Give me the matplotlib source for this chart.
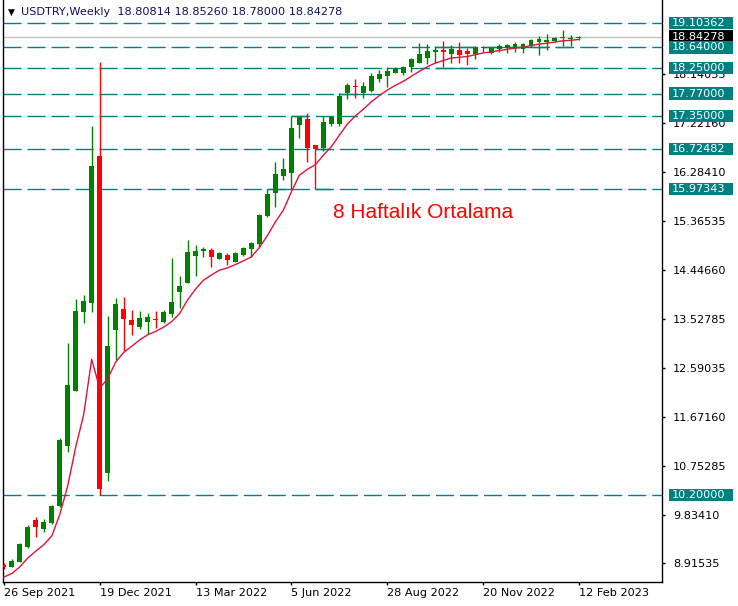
import numpy as np
import pandas as pd
import matplotlib
matplotlib.use("Agg")
import matplotlib.pyplot as plt
from matplotlib.patches import Rectangle

# USDTRY weekly candles, 26 Sep 2021 .. 12 Feb 2023 (one per week)
opens = [8.88, 8.851, 8.945, 9.228, 9.731, 9.567, 9.681, 9.995, 11.132, 12.169,
         13.652, 13.828, 16.593, 10.612, 13.313, 13.709, 13.502, 13.375, 13.470, 13.526,
         13.470, 13.615, 14.029, 14.205, 14.708, 14.802, 14.821, 14.657, 14.727, 14.600,
         14.733, 14.846, 14.928, 15.462, 15.901, 16.216, 16.278, 17.177, 17.285, 16.795,
         16.738, 17.196, 17.196, 17.775, 17.918, 17.775, 17.824, 18.045, 18.101, 18.163,
         18.152, 18.265, 18.341, 18.446, 18.559, 18.591, 18.516, 18.591, 18.572, 18.516,
         18.623, 18.529, 18.610, 18.623, 18.623, 18.604, 18.672, 18.748, 18.748, 18.767,
         18.812, 18.800, 18.80814]
highs = [8.92, 8.991, 9.298, 9.637, 9.788, 9.750, 10.014, 11.277, 13.074, 13.897,
         13.973, 17.158, 18.36, 13.577, 13.922, 13.935, 13.690, 13.671, 13.633, 13.671,
         13.690, 14.665, 14.331, 15.010, 14.915, 14.883, 14.853, 14.783, 14.770, 14.783,
         14.883, 14.978, 15.500, 15.973, 16.485, 16.561, 17.350, 17.350, 17.409, 16.795,
         17.350, 17.350, 17.775, 17.963, 18.045, 17.994, 18.152, 18.214, 18.276, 18.276,
         18.295, 18.440, 18.717, 18.704, 18.672, 18.761, 18.685, 18.736, 18.623, 18.666,
         18.672, 18.642, 18.704, 18.704, 18.736, 18.717, 18.792, 18.861, 18.893, 18.842,
         18.968, 18.874, 18.85260]
lows = [8.81, 8.840, 8.940, 9.209, 9.417, 9.500, 9.662, 9.977, 11.019, 12.163,
        13.439, 13.647, 10.20, 10.467, 12.747, 12.923, 13.219, 13.332, 13.238, 13.351,
        13.439, 13.564, 13.733, 14.205, 14.337, 14.695, 14.506, 14.646, 14.533, 14.589,
        14.708, 14.683, 14.883, 15.437, 15.637, 16.141, 15.973, 16.927, 16.485, 15.973,
        16.693, 17.158, 17.158, 17.673, 17.692, 17.677, 17.799, 17.994, 17.899, 18.152,
        18.120, 18.182, 18.341, 18.322, 18.341, 18.276, 18.341, 18.352, 18.303, 18.421,
        18.559, 18.516, 18.559, 18.540, 18.559, 18.540, 18.653, 18.497, 18.591, 18.748,
        18.672, 18.672, 18.78000]
closes = [8.85, 8.958, 9.279, 9.605, 9.594, 9.694, 9.995, 11.240, 12.276, 13.671,
          13.860, 16.404, 10.316, 13.011, 13.805, 13.526, 13.407, 13.545, 13.564, 13.507,
          13.647, 13.835, 14.142, 14.783, 14.802, 14.840, 14.695, 14.759, 14.632, 14.770,
          14.859, 14.959, 15.481, 15.877, 16.254, 16.353, 17.121, 17.322, 16.738, 16.725,
          17.234, 17.334, 17.730, 17.931, 17.888, 17.912, 18.101, 18.139, 18.201, 18.233,
          18.265, 18.421, 18.516, 18.572, 18.591, 18.559, 18.610, 18.497, 18.516, 18.623,
          18.653, 18.623, 18.666, 18.685, 18.704, 18.704, 18.780, 18.799, 18.780, 18.823,
          18.842, 18.810, 18.84278]
# closes of the weeks before the first candle, only used to seed the average
pre_closes = [8.55, 8.60, 8.52, 8.58, 8.47, 8.56, 8.80]

levels = [19.10362, 18.64, 18.25, 17.77, 17.35, 16.72482, 15.97343, 10.20]
last_price = 18.84278
# short level segments (price, first week, last week)
segments = [(15.97343, 33, 36), (15.97343, 39, 41), (16.72482, 39, 41),
            (17.35, 36, 38), (17.77, 42, 45), (18.25, 54, 59),
            (18.64, 54, 59), (18.64, 60, 68), (18.64, 69, 71)]

tick_vals = [8.91535, 9.83410, 10.75285, 11.67160, 12.59035, 13.52785,
             14.44660, 15.36535, 16.28410, 17.22160, 18.14035]
date_idx = [0, 12, 24, 36, 48, 60, 72]
date_labels = ["26 Sep 2021", "19 Dec 2021", "13 Mar 2022", "5 Jun 2022",
               "28 Aug 2022", "20 Nov 2022", "12 Feb 2023"]

W, H = 738, 606
FS = 8.1
fig = plt.figure(figsize=(W / 100, H / 100), dpi=100)
ax = fig.add_axes([3 / W, (H - 582) / H, (662 - 3) / W, 582 / H])

TEAL = "#008080"
GREEN = "#008000"
RED = "#ff0000"

x = np.arange(len(closes))
for i in x:
    o, h, l, c = opens[i], highs[i], lows[i], closes[i]
    col = GREEN if c >= o else RED
    ax.vlines(i, l, h, color=col, lw=1, zorder=3)
    ax.bar(i, max(abs(c - o), 0.02), bottom=min(o, c), width=0.62,
           color=col, lw=0, zorder=3)

# 8 week exponential average
allc = pd.Series(pre_closes + closes)
ema = allc.ewm(span=8, adjust=False).mean().values[len(pre_closes):]
ax.plot(x, ema, color="#dc143c", lw=1, zorder=4)

for lv in levels:
    ax.axhline(lv, color=TEAL, lw=1, dashes=(13, 4.3), zorder=2)
for lv, a, b in segments:
    ax.hlines(lv, a, b, color=TEAL, lw=1, zorder=2)
ax.axhline(last_price, color="#c0c0c0", lw=1, zorder=1)

ax.set_xlim(-0.1, 82.4)
ax.set_ylim(8.563, 19.533)

ax.yaxis.tick_right()
ax.set_yticks(tick_vals)
ax.set_yticklabels([f"{v:.5f}" for v in tick_vals])
ax.tick_params(axis="y", direction="out", length=2.5, width=1, pad=5.5,
               labelsize=FS, colors="black")
ax.set_xticks(date_idx)
ax.set_xticklabels(date_labels, ha="left")
ax.tick_params(axis="x", direction="out", length=2.5, width=1, pad=2,
               labelsize=FS)
ax.spines["top"].set_visible(False)
for s in ("left", "right", "bottom"):
    ax.spines[s].set_linewidth(1)

# price boxes on the right scale
tr = ax.get_yaxis_transform()
bx0 = (669 - 3) / 659
bw = 64 / 659
bh = 12.5 / 53.05
tx = (672 - 3) / 659


def price_box(v, fc):
    ax.add_patch(Rectangle((bx0, v - bh / 2), bw, bh, transform=tr,
                           facecolor=fc, edgecolor="none", clip_on=False, zorder=6))
    ax.text(tx, v, f"{v:.5f}", transform=tr, color="white", fontsize=FS,
            va="center", ha="left", clip_on=False, zorder=7)


price_box(last_price, "black")
for lv in levels:
    price_box(lv, TEAL)

fig.text(8 / W, 1 - 12 / H, "\u25bc", fontsize=6.5, color="black", va="center")
fig.text(21 / W, 1 - 12 / H, "USDTRY,Weekly  18.80814 18.85260 18.78000 18.84278",
         fontsize=FS, color="#101060", va="center")
fig.text(333 / W, 1 - 212 / H, "8 Haftal\u0131k Ortalama", fontsize=15,
         color=RED, family="Liberation Sans", va="center")

fig.savefig("out.png", dpi=100)
